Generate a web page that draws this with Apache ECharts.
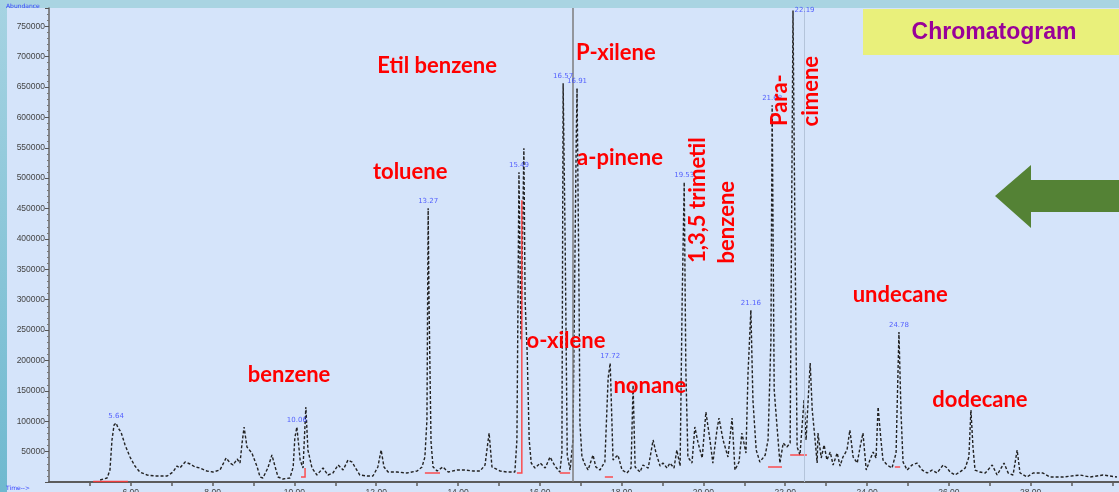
<!DOCTYPE html>
<html>
<head>
<meta charset="utf-8">
<script src="https://cdn.jsdelivr.net/npm/echarts@6/dist/echarts.min.js"></script>
<style>
html,body{margin:0;padding:0;background:#d5e4fa;}
#chart{width:1119px;height:492px;}
</style>
</head>
<body>
<div id="chart"></div>
<script>
// ---- data (retention time in min, abundance) ----
const retentionTime = [5.25,5.42,5.49,5.54,5.59,5.64,5.69,5.76,5.86,5.98,6.10,6.22,6.40,6.59,6.79,6.89,7.03,7.13,7.20,7.33,7.45,7.57,7.69,7.86,8.01,8.18,8.33,8.43,8.50,8.60,8.67,8.72,8.77,8.84,8.96,9.09,9.16,9.23,9.35,9.45,9.53,9.60,9.72,9.89,9.97,10.01,10.06,10.14,10.21,10.28,10.33,10.43,10.55,10.70,10.82,10.94,11.07,11.19,11.31,11.41,11.48,11.60,11.78,11.92,12.04,12.12,12.19,12.29,12.51,12.75,13.00,13.12,13.19,13.24,13.27,13.29,13.34,13.39,13.49,13.63,13.76,13.98,14.17,14.37,14.54,14.66,14.76,14.83,15.03,15.20,15.39,15.44,15.49,15.54,15.61,15.64,15.69,15.74,15.79,15.88,16.01,16.13,16.25,16.37,16.49,16.54,16.57,16.62,16.67,16.74,16.81,16.89,16.91,16.96,16.98,17.03,17.11,17.18,17.30,17.37,17.47,17.59,17.67,17.72,17.79,17.91,18.01,18.13,18.23,18.28,18.33,18.45,18.52,18.65,18.77,18.84,18.94,19.01,19.11,19.18,19.28,19.35,19.43,19.48,19.53,19.57,19.62,19.72,19.79,19.87,19.97,20.06,20.16,20.23,20.33,20.38,20.48,20.60,20.70,20.77,20.87,20.94,21.04,21.09,21.16,21.21,21.29,21.38,21.51,21.58,21.65,21.68,21.73,21.80,21.87,21.95,22.04,22.12,22.19,22.24,22.29,22.36,22.46,22.51,22.56,22.61,22.66,22.73,22.78,22.80,22.88,22.95,23.02,23.10,23.17,23.27,23.34,23.41,23.51,23.58,23.66,23.76,23.83,23.90,23.98,24.07,24.15,24.22,24.27,24.34,24.39,24.49,24.61,24.71,24.73,24.78,24.83,24.88,24.98,25.10,25.22,25.35,25.47,25.59,25.71,25.86,25.96,26.03,26.15,26.27,26.40,26.49,26.54,26.59,26.64,26.76,26.89,27.06,27.18,27.35,27.45,27.57,27.67,27.74,27.91,28.06,28.30,28.47,28.79,29.21,29.45,29.77,30.11];
const abundance = [3300,6600,19700,69100,93700,97000,88800,82200,60900,41100,26300,16400,11500,9900,9900,9900,16400,26300,23000,32900,29600,24700,23000,18100,16400,19700,39500,31200,28000,37800,31200,64100,90500,57600,47700,24700,8200,6600,23000,44400,24700,8200,4900,6600,24700,72400,90500,36200,23000,123400,52600,23000,11500,23000,11500,14800,28000,19700,36200,32900,24700,11500,9900,9900,24700,52600,24700,16400,16400,14800,18100,24700,41100,102000,450600,299300,65800,24700,18100,24700,16400,19700,19700,18100,18100,28000,80600,24700,18100,16400,16400,69100,509900,233500,549300,299300,213800,69100,31200,23000,31200,23000,41100,26300,16400,47700,656200,389800,44400,19700,69100,562500,648000,299300,97000,41100,28000,19700,44400,24700,19700,32900,171000,195700,36200,44400,19700,14800,23000,159500,24700,16400,28000,23000,69100,47700,26300,31200,23000,31200,23000,52600,26300,299300,493400,184200,41100,31200,90500,64100,39500,115100,69100,31200,85500,105300,69100,41100,105300,19700,32900,80600,47700,179300,282900,134900,52600,32900,44400,69100,233500,620100,151300,90500,31200,64100,57600,64100,776000,389800,57600,44400,134900,69100,134900,195700,118400,69100,31200,80600,39500,60900,36200,49300,28000,47700,26300,41100,52600,85500,41100,31200,57600,80600,19700,36200,49300,39500,123400,69100,36200,28000,23000,47700,106900,246700,115100,32900,19700,28000,31200,19700,14800,19700,14800,28000,23000,16400,11500,16400,23000,41100,118400,57600,19700,16400,14800,28000,11500,31200,14800,11500,52600,14800,8200,14800,14800,8200,8200,11500,8200,11500,8200];

// integrated peak apexes (blue retention-time labels)
const peakTimes   = [5.64,10.06,13.27,15.49,16.57,16.91,17.72,19.53,21.16,21.68,22.19,24.78];
const peakHeights = [97000,90500,450600,509900,656200,648000,195700,493400,282900,620100,776000,246700];

// integration baselines (red)
const baselineSegments = [
  [[5.08,800],[5.93,800]],
  [[10.16,8200],[10.26,8200],[10.26,23000]],
  [[13.19,14800],[13.56,14800]],
  [[15.44,14800],[15.56,14800],[15.56,463800]],
  [[16.49,14800],[16.74,14800]],
  [[17.59,8200],[17.79,8200]],
  [[21.58,24700],[21.92,24700]],
  [[22.12,44400],[22.53,44400]],
  [[24.68,24700],[24.81,24700]]
];

// compound annotations (anchor in data space)
const compoundNames  = ['Etil benzene','toluene','benzene','P-xilene','a-pinene','o-xilene','nonane','1,3,5 trimetil','benzene','Para-','cimene','undecane','dodecane'];
const compoundTimes  = [13.49,12.83,9.87,17.86,17.96,16.64,18.69,19.87,20.58,21.87,22.63,24.81,26.76];
const compoundAbund  = [684200,509900,176000,705600,532900,231900,157900,463800,427600,628300,643100,307600,134900];
const compoundVertical = [false,false,false,false,false,false,false,true,true,true,true,false,false];

// cursor lines (min)
const cursorTimes = [16.81, 22.46];

const yTicks = {min:0, max:780000, interval:50000};
const xTicks = {min:4, max:30.16, interval:1};

const chart = echarts.init(document.getElementById('chart'), null, {renderer:'canvas'});

const trace = retentionTime.map((t,i)=>[t, abundance[i]]);
const peaks = peakTimes.map((t,i)=>{
  const item = {value:[t, peakHeights[i]]};
  if (i === 10) item.label = {position:'right', distance:1};
  return item;
});

const option = {
  backgroundColor:'#d5e4fa',
  animation:false,
  grid:{left:49, right:0, top:8, bottom:10, containLabel:false, outerBoundsMode:'none'},
  xAxis:{
    type:'value', min:xTicks.min, max:xTicks.max, interval:xTicks.interval,
    axisLine:{show:true, onZero:false, lineStyle:{color:'#5c5c5c', width:2}},
    axisTick:{show:true, length:4, lineStyle:{color:'#5c5c5c', width:1.5}},
    axisLabel:{
      fontFamily:'Liberation Sans', fontSize:8.5, color:'#444', margin:6,
      showMinLabel:false, showMaxLabel:false, hideOverlap:false,
      formatter:v => (Math.abs(v % 2) < 1e-6 && v > 4 && v < 29) ? v.toFixed(2) : ''
    },
    splitLine:{show:false}
  },
  yAxis:{
    type:'value', min:yTicks.min, max:yTicks.max, interval:yTicks.interval,
    axisLine:{show:true, lineStyle:{color:'#666', width:1.5}},
    axisTick:{show:true, length:4, lineStyle:{color:'#555'}},
    minorTick:{show:true, splitNumber:5, length:2, lineStyle:{color:'#777'}},
    axisLabel:{fontFamily:'Liberation Sans', fontSize:8.5, color:'#444', margin:4,
      showMinLabel:false, showMaxLabel:false, formatter:v => String(Math.round(v))},
    splitLine:{show:false}
  },
  series:[
    {
      type:'line', name:'TIC', data:trace, showSymbol:false, symbol:'none',
      clip:true, z:3,
      lineStyle:{color:'#222222', width:1.4, type:[3,2]},
      markLine:{
        silent:true, symbol:'none', label:{show:false},
        data:[
          {xAxis:cursorTimes[0], lineStyle:{color:'#7d7d7d', width:1.5, type:'solid'}},
          {xAxis:cursorTimes[1], lineStyle:{color:'#b4c4da', width:1, type:'solid'}}
        ]
      }
    },
    {
      type:'lines', coordinateSystem:'cartesian2d', polyline:true, z:4,
      lineStyle:{color:'#ff3b3b', width:1.5, opacity:0.9},
      data:baselineSegments.map(c=>({coords:c}))
    },
    {
      type:'scatter', data:peaks, symbolSize:1, itemStyle:{color:'rgba(0,0,0,0)'}, z:5,
      label:{show:true, position:'top', distance:3, color:'#3340ff', fontSize:7,
        fontFamily:'DejaVu Sans', formatter:p=>p.value[0].toFixed(2)}
    }
  ]
};
chart.setOption(option);

// annotations placed through the chart's coordinate system
const texts = compoundNames.map((name,i)=>{
  const p = chart.convertToPixel({gridIndex:0}, [compoundTimes[i], compoundAbund[i]]);
  return {
    type:'text', x:p[0], y:p[1], rotation: compoundVertical[i] ? Math.PI/2 : 0, z:100,
    style:{text:name, fill:'#ff0000', font:'bold 22px Lato', align:'center', verticalAlign:'middle'}
  };
});

chart.setOption({
  graphic:[
    {type:'rect', shape:{x:0,y:0,width:1119,height:8}, style:{fill:'#a9d4e2'}, z:-10, silent:true},
    {type:'rect', shape:{x:0,y:0,width:7,height:492},
      style:{fill:new echarts.graphic.LinearGradient(0,0,0,1,[{offset:0,color:'#a6d3e2'},{offset:1,color:'#6fb9cf'}])}, z:-10, silent:true},
    {type:'rect', shape:{x:863,y:9,width:256,height:46}, style:{fill:'#e9f07b'}, z:100},
    {type:'text', x:994, y:33, z:101, style:{text:'Chromatogram', fill:'#990099', font:'bold 23px "Liberation Sans"', align:'center', verticalAlign:'middle'}},
    {type:'polygon', z:100, shape:{points:[[995,196],[1031,165],[1031,180],[1119,180],[1119,212],[1031,212],[1031,228]]}, style:{fill:'#548235'}},
    {type:'text', x:6, y:6, z:101, style:{text:'Abundance', fill:'#3340ff', font:'6px "DejaVu Sans"', align:'left', verticalAlign:'middle'}},
    {type:'text', x:6, y:488, z:101, style:{text:'Time-->', fill:'#3340ff', font:'6px "DejaVu Sans"', align:'left', verticalAlign:'middle'}}
  ].concat(texts)
});
</script>
</body>
</html>
